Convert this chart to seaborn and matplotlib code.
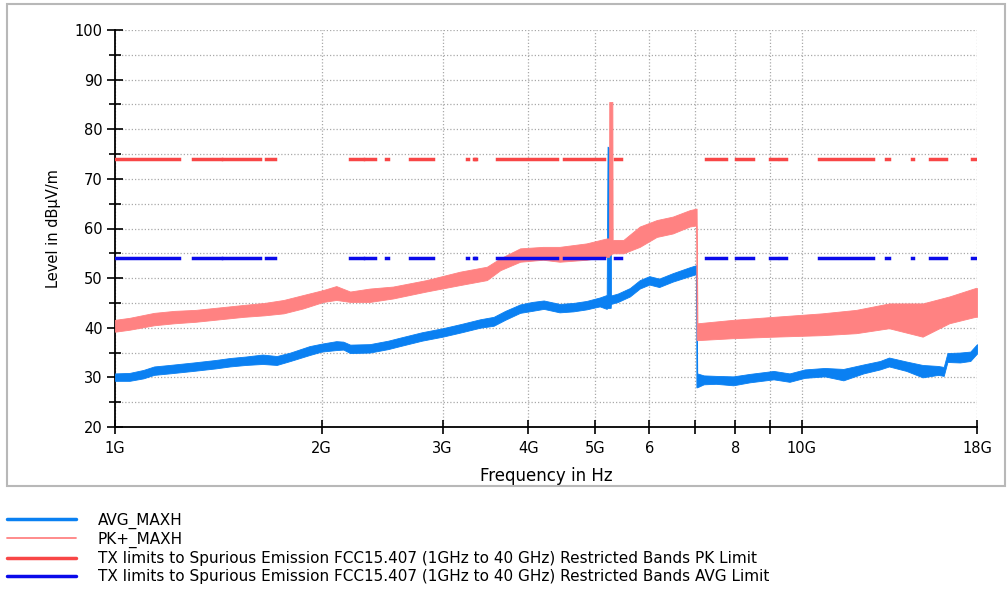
import numpy as np
import pandas as pd
import matplotlib
matplotlib.use("Agg")
import matplotlib.pyplot as plt
import seaborn as sns
from matplotlib.lines import Line2D
from matplotlib.patches import Rectangle
from matplotlib.ticker import NullLocator, FixedLocator

# ---------------- data (GHz / dBuV/m) ----------------
avg_freq = [1.00, 1.05, 1.10, 1.14, 1.20, 1.30, 1.40, 1.47, 1.55, 1.64, 1.72, 1.80, 1.92, 2.00,
            2.10, 2.15, 2.20, 2.35, 2.50, 2.60, 2.80, 3.00, 3.20, 3.40, 3.56, 3.70, 3.89, 4.05,
            4.21, 4.44, 4.65, 4.86, 5.08, 5.20, 5.215, 5.27, 5.275, 5.40, 5.62, 5.81, 6.00, 6.20,
            6.49, 6.87, 7.02, 7.025, 7.045, 7.20, 7.50, 7.95, 8.40, 9.10, 9.60, 10.1, 10.8, 11.5,
            12.3, 13.0, 13.4, 14.2, 15.0, 15.8, 16.1, 16.3, 17.0, 17.6, 18.0]
avg_lo = [29.3, 29.3, 29.8, 30.5, 30.8, 31.3, 31.8, 32.2, 32.5, 32.7, 32.5, 33.3, 34.5, 35.2,
          35.5, 35.6, 34.9, 35.0, 35.7, 36.3, 37.4, 38.2, 39.1, 40.0, 40.4, 41.6, 43.0, 43.4,
          43.8, 43.1, 43.3, 43.7, 44.3, 43.8, 44.0, 44.0, 44.8, 45.2, 46.3, 47.9, 48.7, 48.2,
          49.3, 50.4, 50.8, 28.0, 28.0, 28.6, 28.7, 28.4, 29.0, 29.6, 29.1, 29.9, 30.2, 29.4,
          30.8, 31.6, 32.2, 31.3, 30.0, 30.5, 30.3, 33.1, 33.0, 33.3, 34.8]
avg_hi = [30.8, 30.9, 31.5, 32.2, 32.5, 33.0, 33.5, 33.9, 34.2, 34.6, 34.3, 35.0, 36.3, 36.8,
          37.3, 37.2, 36.6, 36.7, 37.4, 38.0, 39.1, 39.9, 40.8, 41.7, 42.2, 43.4, 44.7, 45.2,
          45.5, 44.8, 45.0, 45.4, 46.1, 46.6, 76.5, 76.0, 46.5, 46.9, 48.0, 49.6, 50.4, 49.9,
          51.0, 52.2, 52.6, 52.6, 30.8, 30.4, 30.3, 30.2, 30.7, 31.3, 30.8, 31.6, 31.9, 31.7,
          32.6, 33.3, 34.0, 33.2, 32.5, 32.3, 32.1, 34.9, 35.0, 35.2, 36.7]

pk_freq = [1.00, 1.05, 1.14, 1.22, 1.31, 1.42, 1.54, 1.65, 1.76, 1.88, 2.01, 2.10, 2.20, 2.35,
           2.54, 2.84, 3.18, 3.48, 3.64, 3.89, 4.20, 4.44, 4.86, 5.20, 5.24, 5.245, 5.30, 5.305,
           5.50, 5.81, 6.15, 6.49, 6.87, 7.02, 7.03, 7.05, 7.95, 9.10, 10.7, 12.0, 13.4, 15.0,
           16.4, 17.9, 18.0]
pk_lo = [39.2, 39.6, 40.5, 40.9, 41.2, 41.7, 42.2, 42.5, 42.9, 43.9, 45.2, 45.6, 45.2, 45.2,
         45.9, 47.3, 48.6, 49.6, 51.6, 53.3, 53.7, 53.3, 53.7, 54.3, 54.3, 54.5, 55.0, 55.0,
         55.0, 56.3, 58.3, 59.0, 60.4, 60.6, 37.5, 37.5, 37.9, 38.2, 38.5, 38.9, 39.9, 38.2,
         40.9, 42.2, 42.2]
pk_hi = [41.6, 42.0, 43.0, 43.4, 43.6, 44.1, 44.6, 45.0, 45.6, 46.6, 47.6, 48.4, 47.3, 47.9,
         48.3, 49.6, 51.3, 52.3, 54.0, 56.0, 56.3, 56.3, 57.0, 58.0, 58.0, 85.5, 85.5, 57.7,
         57.7, 60.4, 61.7, 62.4, 63.7, 64.0, 64.0, 40.9, 41.6, 42.2, 42.9, 43.6, 44.9, 44.9,
         46.3, 48.0, 48.0]

band_start = [1.0, 1.3, 1.435, 1.6455, 1.66, 1.7188, 2.2, 2.31, 2.4835, 2.69, 3.26, 3.332,
              3.3458, 3.6, 4.5, 5.35, 7.25, 8.025, 9.0, 9.3, 10.6, 13.25, 14.47, 15.35, 17.7]
band_end = [1.24, 1.427, 1.6265, 1.6465, 1.71, 1.7222, 2.3, 2.39, 2.5, 2.9, 3.267, 3.339,
            3.358, 4.4, 5.15, 5.46, 7.75, 8.5, 9.2, 9.5, 12.7, 13.4, 14.5, 16.2, 18.0]
pk_limit = 74.0
avg_limit = 54.0

x_ticks = [1, 2, 3, 4, 5, 6, 7, 8, 9, 10, 18]
x_ticklabels = ["1G", "2G", "3G", "4G", "5G", "6", "", "8", "", "10G", "18G"]

labels = ["AVG_MAXH", "PK+_MAXH",
          "TX limits to Spurious Emission FCC15.407 (1GHz to 40 GHz) Restricted Bands PK Limit",
          "TX limits to Spurious Emission FCC15.407 (1GHz to 40 GHz) Restricted Bands AVG Limit"]

# ---------------- style ----------------
sns.set_style("white")
plt.rcParams["font.family"] = ["DejaVu Sans"]
plt.rcParams["text.color"] = "black"
plt.rcParams["axes.labelcolor"] = "black"

C_AVG = "#0A80F2"
C_PK = "#FF8282"
C_PKL = "#F84646"
C_AVGL = "#0A0AEA"

W, H = 1008, 591
fig = plt.figure(figsize=(W / 100, H / 100), dpi=100)
fig.patch.set_facecolor("white")
ax = fig.add_axes([115 / W, 1 - 427 / H, (977 - 115) / W, (427 - 30) / H])

ax.set_xscale("log")

# traces
ax.fill_between(avg_freq, avg_lo, avg_hi, color=C_AVG, lw=0.6, zorder=3)
ax.fill_between(pk_freq, pk_lo, pk_hi, color=C_PK, lw=0.6, zorder=4)

# limit lines (restricted bands only)
rows = []
for i, (s, e) in enumerate(zip(band_start, band_end)):
    rows += [dict(f=s, v=pk_limit, band=i), dict(f=e, v=pk_limit, band=i)]
pk_df = pd.DataFrame(rows)
rows = []
for i, (s, e) in enumerate(zip(band_start, band_end)):
    rows += [dict(f=s, v=avg_limit, band=i), dict(f=e, v=avg_limit, band=i)]
avg_df = pd.DataFrame(rows)
sns.lineplot(data=pk_df, x="f", y="v", units="band", estimator=None, color=C_PKL, lw=2.5,
             solid_capstyle="projecting", ax=ax, zorder=5, legend=False)
sns.lineplot(data=avg_df, x="f", y="v", units="band", estimator=None, color=C_AVGL, lw=2.5,
             solid_capstyle="projecting", ax=ax, zorder=6, legend=False)

ax.set_xlim(1, 18)
ax.set_ylim(20, 100)

# ticks
ax.xaxis.set_major_locator(FixedLocator(x_ticks))
ax.set_xticklabels(x_ticklabels)
ax.xaxis.set_minor_locator(NullLocator())
ax.yaxis.set_major_locator(FixedLocator(np.arange(20, 101, 10)))
ax.yaxis.set_minor_locator(FixedLocator(np.arange(25, 100, 10)))
ax.tick_params(which="both", bottom=True, left=True, top=False, right=False)
ax.tick_params(axis="x", which="major", direction="inout", length=10, width=1.2,
               color="black", labelsize=10.5, pad=5, labelcolor="black")
ax.tick_params(axis="y", which="major", direction="inout", length=12, width=1.2,
               color="black", labelsize=10.5, pad=3, labelcolor="black")
ax.tick_params(axis="y", which="minor", direction="inout", length=9, width=1.2, color="black")

# grid
gkw = dict(color="#a9a9a9", lw=0.9, linestyle=(0, (1, 1.6)))
ax.grid(axis="x", which="major", **gkw)
ax.grid(axis="y", which="both", **gkw)
ax.set_axisbelow(True)

for side in ["top", "right"]:
    ax.spines[side].set_visible(False)
for side in ["left", "bottom"]:
    ax.spines[side].set_color("black")
    ax.spines[side].set_linewidth(1.3)

ax.set_xlabel("Frequency in Hz", fontsize=12, labelpad=8, color="black")
ax.set_ylabel("Level in dBµV/m", fontsize=10.5, labelpad=10, color="black")

# frame around the chart
fig.patches.append(Rectangle((7 / W, 1 - 486 / H), (1005 - 7) / W, (486 - 4) / H,
                             transform=fig.transFigure, fill=False, edgecolor="#b8b8b8",
                             lw=1.5, zorder=0))

# legend
handles = [Line2D([], [], color=C_AVG, lw=2.5),
           Line2D([], [], color=C_PK, lw=1.3),
           Line2D([], [], color=C_PKL, lw=2.5),
           Line2D([], [], color=C_AVGL, lw=2.5)]
leg = fig.legend(handles, labels, loc="upper left", bbox_to_anchor=(4 / W, 1 - 509.5 / H),
                 frameon=False, fontsize=11, handlelength=4.5, handletextpad=1.45,
                 labelspacing=0.2, borderpad=0.2, borderaxespad=0)
for t in leg.get_texts():
    t.set_color("black")

fig.savefig("out.png", dpi=100, facecolor="white")
